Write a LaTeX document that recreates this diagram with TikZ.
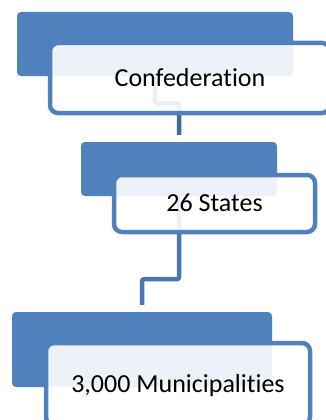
\documentclass[tikz,border=0pt]{standalone}
\usepackage{fontspec}
\setmainfont{Carlito}[Ligatures=NoCommon]
\usetikzlibrary{calc}
\definecolor{accent}{HTML}{4F81BD}
\definecolor{linkdark}{HTML}{41699E}
\definecolor{linkmid}{HTML}{4876B0}
\tikzset{
  levelbar/.style={fill=accent, draw=none, rounded corners=4pt, inner sep=0pt},
  levelcard/.style={fill=white, fill opacity=0.9, text opacity=1, draw=accent,
    line width=4.5pt, rounded corners=8pt, inner sep=0pt,
    font=\fontsize{26}{30}\selectfont, text height=16.7pt, text depth=0pt},
  linkline/.style={line width=4.5pt, rounded corners=2pt, line join=round}
}
\begin{document}
\begin{tikzpicture}[x=1pt, y=-1pt]
  \useasboundingbox (0,0) rectangle (326,420);
  \clip (0,0) rectangle (326,420);
  % coloured header bars
  \node[levelbar, minimum width=276pt, minimum height=64pt] (b1) at (155,44) {};
  \node[levelbar, minimum width=196pt, minimum height=54pt] (b2) at (179,169) {};
  \node[levelbar, minimum width=260pt, minimum height=75pt] (b3) at (142,349.5) {};
  % elbow links between levels
  \draw[linkline, draw=linkdark] (b1.south) -- ++(0,27) -| ($(b2.north)+(0,-7)$);
  \draw[linkline, draw=linkmid] (b2.south) -- ++(0,83) -| ($(b3.north)+(0,-7)$);
  % label cards
  \node[levelcard, minimum width=280pt, minimum height=70pt] (c1) at (190,78) {Confederation};
  \node[levelcard, minimum width=201pt, minimum height=57pt] (c2) at (214.5,203.5) {26 States};
  \node[levelcard, minimum width=264pt, minimum height=82pt] (c3) at (178,384) {3,000 Municipalities};
\end{tikzpicture}
\end{document}
